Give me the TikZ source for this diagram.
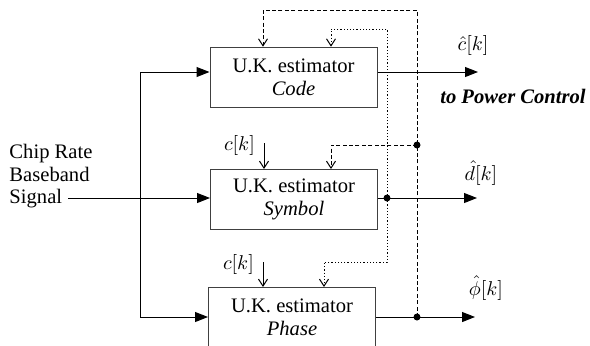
\documentclass[tikz,border=0pt]{standalone}
\usepackage[no-math]{fontspec}
\setmainfont{Liberation Serif}
\usetikzlibrary{arrows.meta}

\tikzset{
    estbox/.style={draw=black!75, line width=0.5pt, minimum width=83.5pt, minimum height=30pt, align=center, inner sep=0pt},
    sigarrow/.style={-{Triangle[length=6.5pt,width=5pt]}},
    fbarrow/.style={-{Straight Barb[length=3.5pt,width=4.5pt]}},
    fbdash/.style={dash pattern=on 2pt off 1.2pt},
    fbdot/.style={dash pattern=on 0.6pt off 1pt},
    junction/.style={circle, fill, inner sep=0pt, minimum size=3.5pt},
}

\begin{document}
\begin{tikzpicture}[x=0.5pt, y=-0.5pt, line width=0.5pt, font=\fontsize{10.3}{11.25}\selectfont]
    \useasboundingbox (0,0) rectangle (590,345);
    \clip (0,0) rectangle (590,345);

    \node [estbox] (code) at (293.5,77.2) {U.K. estimator\\\textit{Code}};
    \node [estbox] (symbol) at (294,199.5) {U.K. estimator\\\textit{Symbol}};
    \node [estbox] (phase) at (292,317.5) {U.K. estimator\\\textit{Phase}};

    \node [align=left, anchor=north west, inner sep=0pt] (input) at (9,144) {Chip Rate\\Baseband\\Signal};

    \coordinate (src) at (68,198);
    \coordinate (bus1) at (140,72);
    \coordinate (bus3) at (140,317);
    \draw [sigarrow] (src) -- (src -| symbol.west);
    \draw (bus1) -- (bus3);
    \draw [sigarrow] (bus1) -- (bus1 -| code.west);
    \draw [sigarrow] (bus3) -- (bus3 -| phase.west);

    \coordinate (cout) at (478,72);
    \coordinate (dout) at (477,198);
    \coordinate (pout) at (475,317);
    \node [junction] (dj) at (387,198) {};
    \node [junction] (pj) at (417,317) {};
    \node [junction] (pj2) at (417,145) {};
    \draw [sigarrow] (cout -| code.east) -- (cout);
    \draw [sigarrow] (dout -| symbol.east) -- (dout);
    \draw [sigarrow] (pout -| phase.east) -- (pout);

    \node (chat) at (473,45) {$\hat{c}[k]$};
    \node (dhat) at (481,173) {$\hat{d}[k]$};
    \node (phat) at (486,288) {$\hat{\phi}[k]$};
    \node [font=\fontsize{10.3}{12}\selectfont\bfseries\itshape] (power) at (513,96) {to Power Control};

    \coordinate (dc) at (263,10);
    \coordinate (ds) at (331,145);
    \draw [fbdash, fbarrow] (pj.center) |- (dc) -- (dc |- code.north);
    \draw [fbdash, fbarrow] (pj2.center) -- (ds) -- (ds |- symbol.north);

    \coordinate (oc) at (331,29);
    \coordinate (op) at (324,262);
    \draw [fbdot, fbarrow] (dj.center) |- (oc) -- (oc |- code.north);
    \draw [fbdot, fbarrow] (dj.center) |- (op) -- (op |- phase.north);

    \coordinate (ck2) at (264,143);
    \coordinate (ck3) at (263,262);
    \node [anchor=east] (cklab2) at (262,145) {$c[k]$};
    \node [anchor=east] (cklab3) at (261,264) {$c[k]$};
    \draw [fbarrow] (ck2) -- (ck2 |- symbol.north);
    \draw [fbarrow] (ck3) -- (ck3 |- phase.north);
\end{tikzpicture}
\end{document}
